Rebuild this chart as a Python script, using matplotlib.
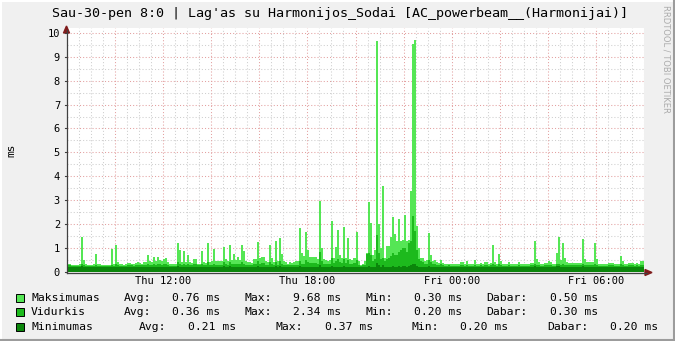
import matplotlib
matplotlib.use('Agg')
import matplotlib.pyplot as plt
import numpy as np
from matplotlib.patches import Rectangle, Polygon
from matplotlib.lines import Line2D

# ---------------- data (5-minute steps, Thu 08:00 -> Fri 08:00) ----------------
max_ms = [
    0.35,0.35,0.30,0.30,0.30,0.30,0.33,1.45,0.50,0.33,0.30,0.30,
    0.30,0.33,0.75,0.35,0.33,0.30,0.30,0.28,0.30,0.30,0.95,0.35,
    1.13,0.40,0.33,0.33,0.30,0.35,0.38,0.38,0.35,0.33,0.38,0.40,
    0.38,0.35,0.40,0.42,0.70,0.45,0.40,0.63,0.45,0.63,0.50,0.45,
    0.55,0.60,0.40,0.33,0.33,0.33,0.33,1.23,0.92,0.40,0.87,0.40,
    0.70,0.40,0.38,0.54,0.54,0.35,0.35,0.89,0.40,0.38,1.23,0.40,
    0.45,0.96,0.45,0.45,0.45,0.45,1.05,0.55,0.45,1.13,0.50,0.77,
    0.50,0.63,0.50,1.13,0.87,0.45,0.40,0.40,0.38,0.56,0.56,1.27,
    0.60,0.63,0.63,0.45,0.40,1.13,0.60,0.40,1.31,0.45,1.41,0.75,
    0.45,0.40,0.35,0.40,0.38,0.40,0.45,0.45,1.85,0.80,0.65,1.69,
    0.90,0.64,0.64,0.64,0.64,0.55,2.97,1.02,0.55,0.50,0.45,0.50,
    2.13,0.60,1.06,1.77,0.70,0.60,1.88,0.60,1.44,0.55,0.50,0.60,
    1.69,0.45,0.30,0.35,0.45,0.80,2.94,2.06,0.70,0.90,9.65,2.00,
    1.00,3.60,0.60,1.10,1.10,1.46,2.30,1.60,1.30,2.22,1.30,1.35,
    2.38,1.30,1.35,3.40,9.55,9.68,1.92,1.00,0.60,0.60,0.45,0.50,
    1.65,0.70,0.45,0.50,0.40,0.38,0.50,0.38,0.33,0.33,0.35,0.33,
    0.33,0.33,0.33,0.33,0.40,0.40,0.33,0.45,0.35,0.33,0.35,0.50,
    0.35,0.33,0.38,0.33,0.40,0.40,0.33,0.38,1.13,0.40,0.35,0.75,
    0.45,0.33,0.33,0.33,0.42,0.35,0.33,0.33,0.33,0.40,0.33,0.33,
    0.33,0.33,0.35,0.38,0.38,1.30,0.55,0.40,0.35,0.35,0.38,0.38,
    0.45,0.40,0.35,0.33,0.80,1.45,0.50,1.22,0.59,0.40,0.38,0.38,
    0.38,0.38,0.38,0.38,0.38,1.38,0.55,0.40,0.40,0.40,0.40,1.22,
    0.55,0.33,0.33,0.33,0.33,0.33,0.38,0.38,0.38,0.33,0.33,0.33,
    0.67,0.45,0.33,0.33,0.38,0.38,0.38,0.33,0.38,0.33,0.45,0.45,
]

avg_ms = [
    0.28,0.28,0.25,0.25,0.25,0.25,0.27,0.35,0.30,0.27,0.25,0.25,
    0.25,0.27,0.30,0.27,0.27,0.25,0.25,0.25,0.25,0.25,0.30,0.27,
    0.35,0.30,0.27,0.27,0.25,0.27,0.28,0.30,0.28,0.27,0.28,0.30,
    0.30,0.28,0.30,0.30,0.35,0.30,0.30,0.35,0.30,0.35,0.32,0.30,
    0.33,0.35,0.30,0.27,0.27,0.27,0.27,0.40,0.35,0.30,0.35,0.30,
    0.35,0.30,0.28,0.32,0.32,0.28,0.28,0.35,0.30,0.28,0.40,0.30,
    0.30,0.35,0.30,0.30,0.30,0.30,0.40,0.35,0.30,0.40,0.35,0.33,
    0.32,0.35,0.32,0.40,0.35,0.30,0.30,0.30,0.28,0.32,0.32,0.45,
    0.35,0.38,0.38,0.30,0.30,0.40,0.35,0.30,0.40,0.30,0.45,0.35,
    0.30,0.30,0.28,0.30,0.28,0.30,0.30,0.30,0.45,0.35,0.35,0.50,
    0.40,0.38,0.38,0.38,0.38,0.35,0.85,0.45,0.35,0.33,0.32,0.33,
    0.60,0.38,0.45,0.55,0.40,0.38,0.55,0.38,0.50,0.35,0.33,0.38,
    0.50,0.30,0.27,0.28,0.30,0.75,0.80,0.70,0.45,0.55,1.55,0.80,
    0.55,0.60,0.45,0.55,0.60,0.65,0.80,0.70,0.70,0.85,0.90,1.00,
    1.00,0.85,1.20,1.30,2.34,1.70,0.90,0.55,0.45,0.40,0.33,0.35,
    0.50,0.40,0.33,0.35,0.30,0.30,0.35,0.30,0.27,0.27,0.28,0.27,
    0.27,0.27,0.27,0.27,0.30,0.30,0.27,0.30,0.27,0.27,0.27,0.30,
    0.27,0.27,0.28,0.27,0.30,0.30,0.27,0.28,0.35,0.30,0.27,0.32,
    0.30,0.27,0.27,0.27,0.30,0.27,0.27,0.27,0.27,0.30,0.27,0.27,
    0.27,0.27,0.27,0.28,0.28,0.35,0.30,0.28,0.27,0.27,0.28,0.28,
    0.30,0.28,0.27,0.27,0.32,0.35,0.30,0.33,0.30,0.28,0.28,0.28,
    0.28,0.28,0.28,0.28,0.28,0.35,0.30,0.28,0.28,0.28,0.28,0.33,
    0.30,0.27,0.27,0.27,0.27,0.27,0.28,0.28,0.28,0.27,0.27,0.27,
    0.32,0.30,0.27,0.27,0.28,0.28,0.28,0.27,0.28,0.27,0.30,0.30,
]

min_ms = [
    0.20,0.20,0.20,0.20,0.20,0.20,0.20,0.25,0.20,0.20,0.20,0.20,
    0.20,0.20,0.22,0.20,0.20,0.20,0.20,0.20,0.20,0.20,0.22,0.20,
    0.22,0.20,0.20,0.20,0.20,0.20,0.20,0.20,0.20,0.20,0.20,0.20,
    0.20,0.20,0.20,0.20,0.22,0.20,0.20,0.20,0.20,0.22,0.20,0.20,
    0.20,0.22,0.20,0.20,0.20,0.20,0.20,0.25,0.20,0.20,0.22,0.20,
    0.20,0.20,0.20,0.20,0.20,0.20,0.20,0.22,0.20,0.20,0.22,0.20,
    0.20,0.22,0.20,0.20,0.20,0.20,0.25,0.20,0.20,0.25,0.20,0.20,
    0.20,0.20,0.20,0.22,0.20,0.20,0.20,0.20,0.20,0.20,0.20,0.25,
    0.20,0.22,0.20,0.20,0.20,0.22,0.20,0.20,0.25,0.20,0.25,0.20,
    0.20,0.20,0.20,0.20,0.20,0.20,0.20,0.20,0.25,0.20,0.20,0.22,
    0.22,0.20,0.20,0.20,0.20,0.20,0.30,0.22,0.20,0.20,0.20,0.20,
    0.25,0.20,0.22,0.22,0.20,0.20,0.25,0.20,0.22,0.20,0.20,0.20,
    0.22,0.20,0.20,0.20,0.20,0.22,0.25,0.22,0.20,0.22,0.37,0.30,
    0.22,0.30,0.20,0.22,0.22,0.22,0.25,0.22,0.22,0.25,0.22,0.25,
    0.25,0.22,0.25,0.30,0.33,0.35,0.25,0.22,0.20,0.20,0.20,0.20,
    0.25,0.20,0.20,0.20,0.20,0.20,0.20,0.20,0.20,0.20,0.20,0.20,
    0.20,0.20,0.20,0.20,0.20,0.20,0.20,0.20,0.20,0.20,0.20,0.20,
    0.20,0.20,0.20,0.20,0.20,0.20,0.20,0.20,0.22,0.20,0.20,0.22,
    0.20,0.20,0.20,0.20,0.20,0.20,0.20,0.20,0.20,0.20,0.20,0.20,
    0.20,0.20,0.20,0.20,0.20,0.25,0.20,0.20,0.20,0.20,0.20,0.20,
    0.20,0.20,0.20,0.20,0.25,0.25,0.20,0.22,0.20,0.20,0.20,0.20,
    0.20,0.20,0.20,0.20,0.20,0.25,0.20,0.20,0.20,0.20,0.20,0.22,
    0.20,0.20,0.20,0.20,0.20,0.20,0.20,0.20,0.20,0.20,0.20,0.20,
    0.22,0.20,0.20,0.20,0.20,0.20,0.20,0.20,0.20,0.20,0.20,0.20,
]

x_tick_hours = [4, 10, 16, 22]
x_tick_labels = ['Thu 12:00', 'Thu 18:00', 'Fri 00:00', 'Fri 06:00']
y_ticks = [0, 1, 2, 3, 4, 5, 6, 7, 8, 9, 10]

title = "Sau-30-pen 8:0 | Lag'as su Harmonijos_Sodai [AC_powerbeam__(Harmonijai)]"
series_names = ['Maksimumas', 'Vidurkis', 'Minimumas']
stat_avg = [0.76, 0.36, 0.21]
stat_max = [9.68, 2.34, 0.37]
stat_min = [0.30, 0.20, 0.20]
stat_cur = [0.50, 0.30, 0.20]

colors = ['#55E655', '#1DBA1D', '#0B860B']

# ---------------- figure ----------------
W, H = 675, 341
DPI = 100
MONO = 'DejaVu Sans Mono'
fig = plt.figure(figsize=(W / DPI, H / DPI), dpi=DPI, facecolor='#F0F0F0')


def fx(px):
    return px / W


def fy(py):
    return 1 - py / H


# frame
fig.add_artist(Line2D([fx(0.5), fx(674.5)], [fy(0.5), fy(0.5)], color='#FFFFFF', lw=1.5))
fig.add_artist(Line2D([fx(0.5), fx(0.5)], [fy(0.5), fy(340.5)], color='#FFFFFF', lw=1.5))
fig.add_artist(Line2D([fx(673.5), fx(673.5)], [fy(0), fy(341)], color='#9C9C9C', lw=1.5))
fig.add_artist(Line2D([fx(0), fx(675)], [fy(339.5), fy(339.5)], color='#9C9C9C', lw=1.5))

ax_l, ax_r, ax_t, ax_b = 67, 644, 28, 272
ax = fig.add_axes([fx(ax_l), fy(ax_b), (ax_r - ax_l) / W, (ax_b - ax_t) / H])
ax.set_facecolor('white')
ax.set_xlim(0, 24)
ax.set_ylim(0, 10.2)

n = len(max_ms)
edges = np.arange(n + 1) / 12.0
ax.stairs(max_ms, edges, fill=True, color=colors[0], zorder=2)
ax.stairs(avg_ms, edges, fill=True, color=colors[1], zorder=3)
ax.stairs(min_ms, edges, fill=True, color=colors[2], zorder=4)

# grid
dot = (0, (1, 2))
for v in np.arange(0.5, 10.01, 0.5):
    major = abs(v - round(v)) < 1e-9
    ax.axhline(v, color='#E3A0A0' if major else '#CFCFCF', lw=0.75, ls=dot, zorder=1)
for h in np.arange(0.5, 24.01, 0.5):
    major = abs(h - round(h)) < 1e-9 and int(round(h)) % 2 == 0
    ax.axvline(h, color='#E3A0A0' if major else '#CFCFCF', lw=0.75, ls=dot, zorder=1)

for s in ax.spines.values():
    s.set_visible(False)

ax.set_yticks(y_ticks)
ax.set_yticklabels([str(t) for t in y_ticks], fontfamily=MONO, fontsize=7.5, color='#000000')
ax.set_xticks(x_tick_hours)
ax.set_xticklabels(x_tick_labels, fontfamily=MONO, fontsize=7.5, color='#000000')
ax.tick_params(axis='y', length=0, pad=5)
ax.tick_params(axis='x', length=0, pad=3)

# axis lines with arrows
axis_col = '#404040'
fig.add_artist(Line2D([fx(66.5), fx(66.5)], [fy(272.5), fy(30)], color=axis_col, lw=0.9))
fig.add_artist(Line2D([fx(66.5), fx(647)], [fy(272.5), fy(272.5)], color=axis_col, lw=0.9))
arrow_col = '#7F1B1B'
fig.add_artist(Polygon([[fx(63.5), fy(33)], [fx(69.5), fy(33)], [fx(66.5), fy(26)]],
                       closed=True, color=arrow_col))
fig.add_artist(Polygon([[fx(645), fy(269.5)], [fx(645), fy(275.5)], [fx(652), fy(272.5)]],
                       closed=True, color=arrow_col))
# small ticks
for v in y_ticks:
    y = ax_b - (ax_b - ax_t) * v / 10.2
    fig.add_artist(Line2D([fx(64.5), fx(66.5)], [fy(y), fy(y)], color=axis_col, lw=0.8))

# texts
fig.text(fx(340), fy(13), title, fontfamily=MONO, fontsize=9.6, ha='center', va='center', color='#000000')
fig.text(fx(11), fy(150), 'ms', fontfamily=MONO, fontsize=8, rotation=90, ha='center', va='center')
fig.text(fx(666), fy(5), 'RRDTOOL / TOBI OETIKER', fontfamily='DejaVu Sans', fontsize=6.0,
         rotation=270, ha='center', va='top', color='#ABABAB')

# legend
row_y = [298, 312, 327]
pos_a = [31, 124, 172, 244.5, 293, 365, 414.5, 486, 550]
pos_b = [31, 139, 188, 275.5, 325, 412, 460.5, 547.5, 610]
for i, name in enumerate(series_names):
    y = row_y[i]
    fig.add_artist(Rectangle((fx(15.5), fy(y + 4)), 8 / W, 8 / H, facecolor=colors[i],
                             edgecolor='#000000', lw=0.7))
    p = pos_a if i < 2 else pos_b
    pieces = [name, 'Avg:', f'{stat_avg[i]:.2f} ms', 'Max:', f'{stat_max[i]:.2f} ms',
              'Min:', f'{stat_min[i]:.2f} ms', 'Dabar:', f'{stat_cur[i]:.2f} ms']
    for xp, t in zip(p, pieces):
        fig.text(fx(xp), fy(y), t, fontfamily=MONO, fontsize=8.2, ha='left', va='center', color='#000000')

fig.savefig('out.png', dpi=DPI, facecolor=fig.get_facecolor())
